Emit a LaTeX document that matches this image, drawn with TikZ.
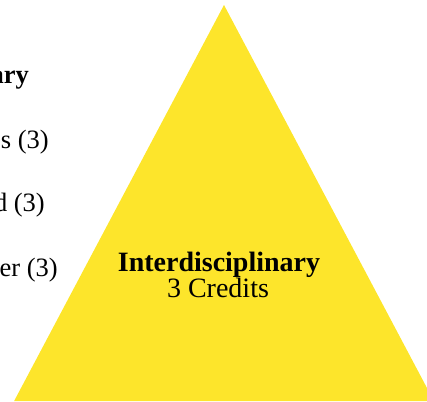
\documentclass[tikz,border=0pt]{standalone}
\usepackage{fontspec}
\setmainfont{Liberation Serif}
\definecolor{tri}{HTML}{FDE52B}
\begin{document}
\begin{tikzpicture}[x=1pt,y=-1pt,
  side/.style={anchor=base east,inner sep=0pt,font=\fontsize{26.5}{30}\selectfont},
  mid/.style={anchor=base,inner sep=0pt,font=\fontsize{28}{32}\selectfont}]
\useasboundingbox (0,0) rectangle (427,401);
\clip (0,0) rectangle (427,401);
\fill[tri] (224,5) -- (224+0.53*396,401) -- (224-0.53*396,401) -- cycle;
\node[side,font=\bfseries\fontsize{26.5}{30}\selectfont] (t1) at (29,83) {ary};
\node[side] (t2) at (49,148) {s (3)};
\node[side] (t3) at (45,211) {d (3)};
\node[side] (t4) at (58,276) {er (3)};
\node[mid,font=\bfseries\fontsize{28}{32}\selectfont] (c1) at (219,271) {Interdisciplinary};
\node[mid] (c2) at (218,297) {3 Credits};
\end{tikzpicture}
\end{document}
